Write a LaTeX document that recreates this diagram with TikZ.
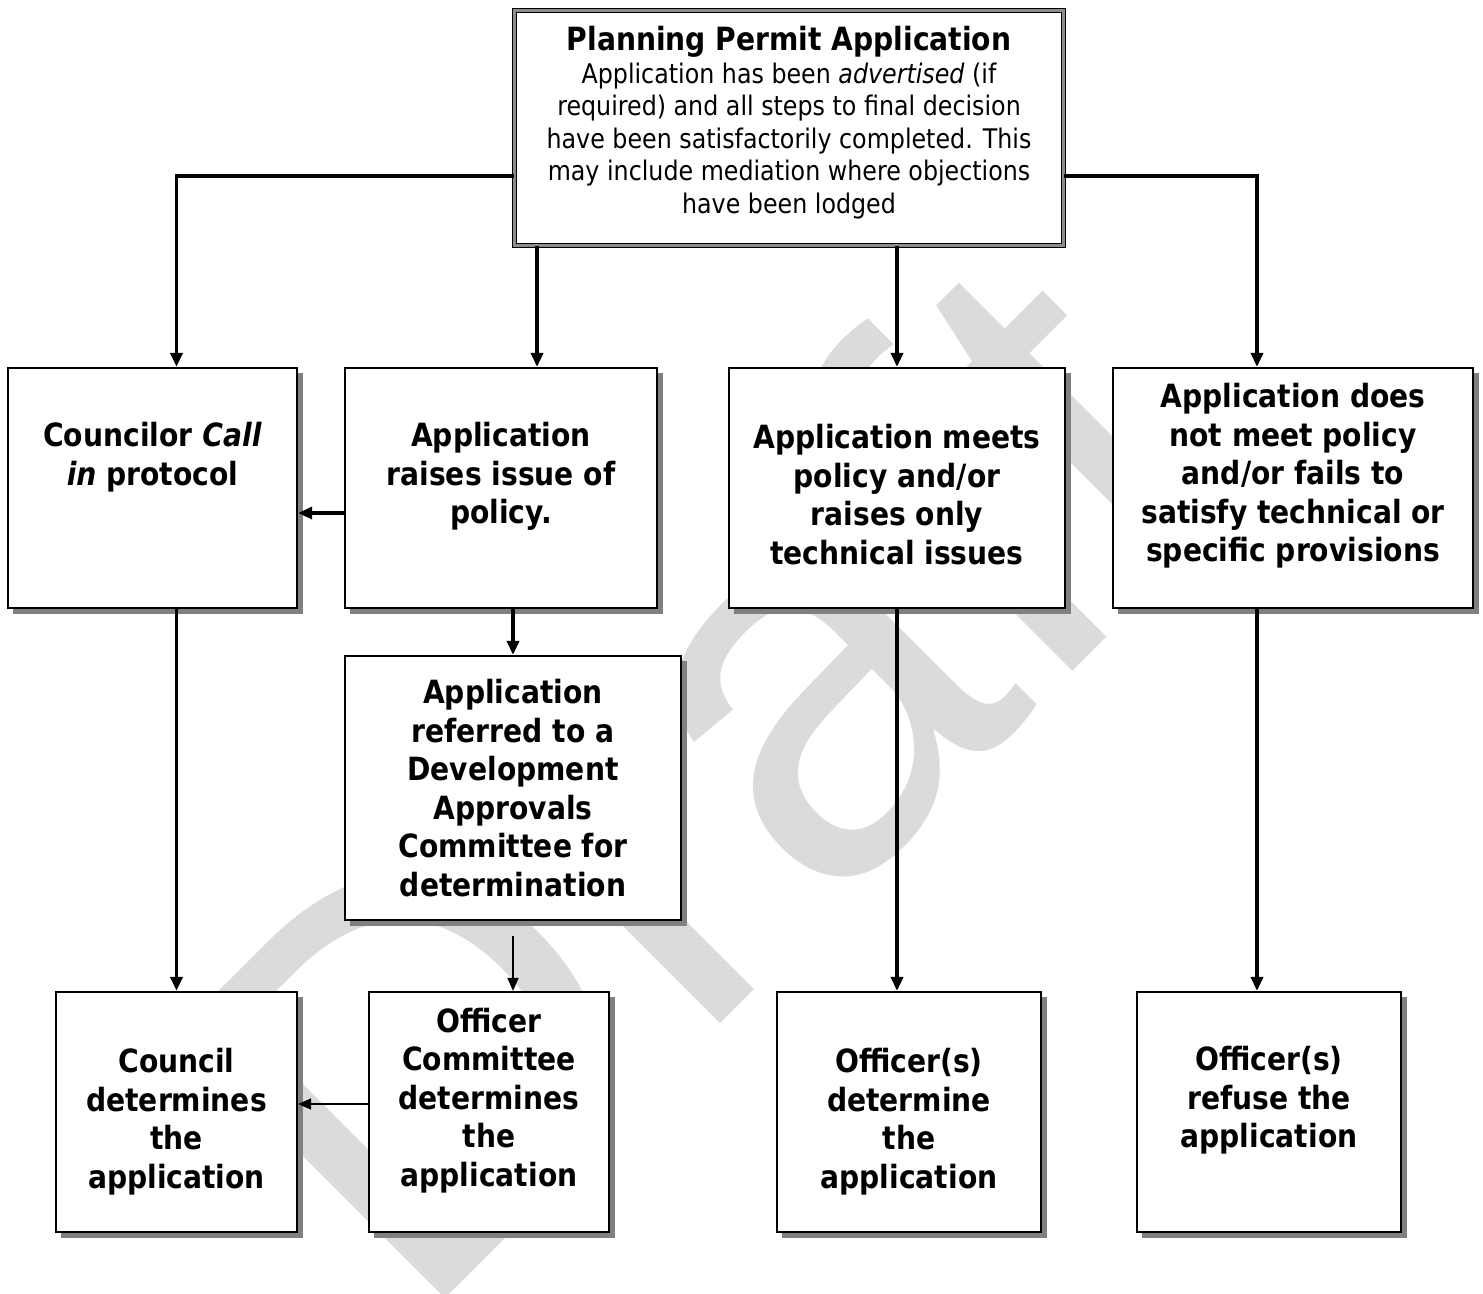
\documentclass[tikz,border=0pt]{standalone}
\usepackage{fontspec}
\setmainfont{DejaVu Sans}[FakeStretch=0.88]
\newfontfamily\wmfont{Liberation Sans}
\usetikzlibrary{arrows.meta,shadows}

\begin{document}
\begin{tikzpicture}[x=0.01cm, y=-0.01cm,
    box/.style={draw, line width=0.6pt, fill=white, align=center, inner sep=0pt,
        minimum height=2.4cm, font=\fontsize{9.1pt}{10.95pt}\selectfont\bfseries,
        drop shadow={shadow xshift=0.055cm, shadow yshift=-0.055cm, fill=black!50, opacity=1}},
    arr/.style={line width=1.1pt, -{Triangle[length=0.14cm, width=0.12cm]}},
    thinarr/.style={line width=0.45pt, -{Triangle[length=0.13cm, width=0.11cm]}}]
    \useasboundingbox (0,0) rectangle (1483,1293);

    % Watermark
    \node[anchor=base west, rotate=45, inner sep=0pt, text=black!14,
        font=\wmfont\fontsize{156pt}{156pt}\selectfont] (wm) at (413,1331) {Draft};

    % Permit application
    \node[draw, line width=0.35pt, double=black!45, double distance=0.8pt, fill=white,
        minimum width=5.49cm, minimum height=2.35cm, align=center, inner sep=0pt,
        font=\fontsize{7.68pt}{9.25pt}\selectfont] (perm) at (789,128)
        {{\fontsize{9.1pt}{10.95pt}\selectfont\bfseries Planning Permit Application}\\
         Application has been \textit{advertised} (if\\
         required) and all steps to final decision\\
         have been satisfactorily completed. This\\
         may include mediation where objections\\
         have been lodged\\[-0.165cm]\mbox{}};

    % Assessment
    \node[box, minimum width=2.89cm] (call) at (152.5,488)
        {Councilor \textit{Call}\\\textit{in} protocol\\[0.3cm]\mbox{}};
    \node[box, minimum width=3.12cm] (raise) at (501,488)
        {Application\\raises issue of\\policy.\\[-0.085cm]\mbox{}};
    \node[box, minimum width=3.36cm] (meets) at (897,488)
        {\mbox{}\\[-0.01cm]Application meets\\policy and/or\\raises only\\technical issues};
    \node[box, minimum width=3.6cm] (fails) at (1293,488)
        {Application does\\not meet policy\\and/or fails to\\satisfy technical or\\specific provisions\\[-0.075cm]\mbox{}};
    \node[box, minimum width=3.36cm, minimum height=2.64cm] (refer) at (513,788)
        {Application\\referred to a\\Development\\Approvals\\Committee for\\determination};

    % Determination
    \node[box, minimum width=2.41cm] (council) at (176.5,1112)
        {\mbox{}\\[0.055cm]Council\\determines\\the\\application};
    \node[box, minimum width=2.4cm] (offcom) at (489,1112)
        {Officer\\Committee\\determines\\the\\application\\[-0.085cm]\mbox{}};
    \node[box, minimum width=2.64cm] (offdet) at (909,1112)
        {\mbox{}\\[0.055cm]Officer(s)\\determine\\the\\application};
    \node[box, minimum width=2.64cm] (refuse) at (1269,1112)
        {Officer(s)\\refuse the\\application\\[-0.085cm]\mbox{}};

    % Connectors
    \coordinate (j1) at ([xshift=0.36cm]raise.north);
    \coordinate (j2) at ([xshift=-0.36cm]fails.north);
    \coordinate (j3) at ([xshift=-0.36cm]fails.south);
    \draw[arr] ([yshift=-0.48cm]perm.west) -| (call.north -| council.north);
    \draw[arr] (j1 |- perm.south) -- (j1);
    \draw[arr] (perm.south -| meets.north) -- (meets.north);
    \draw[arr] ([yshift=-0.48cm]perm.east) -| (j2);
    \draw[arr] ([yshift=-0.25cm]raise.west) -- ([yshift=-0.25cm]call.east);
    \draw[arr] (raise.south -| refer.north) -- (refer.north);
    \draw[arr] (call.south -| council.north) -- (council.north);
    \draw[arr] (meets.south) -- (meets.south |- offdet.north);
    \draw[arr] (j3) -- (j3 |- refuse.north);
    \draw[thinarr] ([yshift=-0.15cm]refer.south) -- (offcom.north -| refer.south);
    \draw[thinarr] ([yshift=0.08cm]offcom.west) -- ([yshift=0.08cm]council.east);
\end{tikzpicture}
\end{document}
